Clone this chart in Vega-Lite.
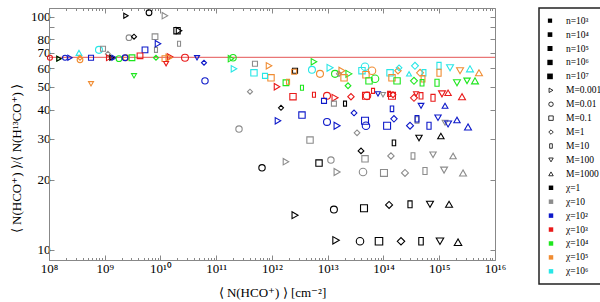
{
"$schema": "https://vega.github.io/schema/vega-lite/v6.json",
"padding": {"left": 10, "top": 1, "right": 0, "bottom": 2},
"background": "white",
"config": {"font": "Liberation Serif, Times New Roman, serif", "view": {"stroke": null},
  "text": {"font": "Liberation Serif, Times New Roman, serif"},
  "axis": {"labelFont": "Liberation Serif, Times New Roman, serif", "titleFont": "Liberation Serif, Times New Roman, serif", "labelColor": "#000", "titleColor": "#000", "titleFontWeight": "normal", "grid": false, "domainColor": "#888", "tickColor": "#888", "labelFontSize": 13, "titleFontSize": 13}},
"datasets": {
"pts": [
{"x":1.04e8,"y":66.7,"n":1000,"M":0.01,"chi":1000},
{"x":1.51e8,"y":66.1,"n":1000,"M":0.001,"chi":10000},
{"x":1.51e8,"y":66.1,"n":1000,"M":0.001,"chi":1},
{"x":1.94e8,"y":66.7,"n":1000,"M":0.01,"chi":100},
{"x":2.38e8,"y":66.7,"n":1000,"M":0.001,"chi":100},
{"x":3.45e8,"y":70.0,"n":10000,"M":1000,"chi":1000000},
{"x":3.6e8,"y":65.4,"n":10000,"M":0.01,"chi":100000},
{"x":3.6e8,"y":66.7,"n":1000,"M":1,"chi":100000},
{"x":5.67e8,"y":66.7,"n":1000,"M":0.1,"chi":100},
{"x":5.67e8,"y":51.6,"n":1000,"M":100,"chi":100000},
{"x":7.88e8,"y":72.1,"n":1000000,"M":0.01,"chi":1000000},
{"x":9.3e8,"y":72.9,"n":1000,"M":0.1,"chi":10},
{"x":1.14e9,"y":69.3,"n":1000,"M":1,"chi":10},
{"x":1.19e9,"y":66.7,"n":10000,"M":0.001,"chi":1000},
{"x":1.35e9,"y":66.7,"n":1000,"M":0.001,"chi":1},
{"x":1.47e9,"y":66.7,"n":1000,"M":0.001,"chi":100},
{"x":1.8e9,"y":66.1,"n":10000,"M":0.01,"chi":10000},
{"x":2.4e9,"y":66.7,"n":10000,"M":0.01,"chi":100000},
{"x":2.31e9,"y":66.7,"n":10000,"M":0.01,"chi":100},
{"x":3.08e9,"y":66.7,"n":10000,"M":0.1,"chi":10000},
{"x":3.35e9,"y":55.8,"n":1000,"M":100,"chi":10000},
{"x":2.4e9,"y":101,"n":1000,"M":0.001,"chi":1},
{"x":2.72e9,"y":81.3,"n":10000,"M":0.01,"chi":10},
{"x":3.35e9,"y":82.1,"n":1000,"M":1,"chi":1},
{"x":6.22e9,"y":104,"n":10000,"M":0.01,"chi":1},
{"x":1.2e10,"y":101,"n":100000,"M":0.001,"chi":10},
{"x":7.97e9,"y":82.1,"n":10000,"M":0.1,"chi":10},
{"x":5.27e9,"y":72.1,"n":10000,"M":0.1,"chi":100},
{"x":4.29e9,"y":68.0,"n":10000,"M":0.1,"chi":1000},
{"x":8.3e9,"y":66.7,"n":1000,"M":1,"chi":10000},
{"x":8.3e9,"y":72.1,"n":1000,"M":10,"chi":10},
{"x":9.02e9,"y":76.6,"n":100000,"M":0.001,"chi":100},
{"x":1.98e10,"y":87.1,"n":100000,"M":0.1,"chi":1},
{"x":2.15e10,"y":87.1,"n":100000,"M":0.001,"chi":1},
{"x":2.15e10,"y":76.6,"n":1000,"M":10,"chi":10},
{"x":1.2e10,"y":66.1,"n":10000,"M":0.1,"chi":100000},
{"x":1.48e10,"y":67.3,"n":100000,"M":0.001,"chi":1000},
{"x":1.42e10,"y":66.7,"n":1000000,"M":0.001,"chi":100000},
{"x":1.26e10,"y":62.9,"n":1000,"M":100,"chi":1000},
{"x":2.75e10,"y":66.7,"n":1000000,"M":0.01,"chi":1000},
{"x":4.52e10,"y":66.7,"n":1000,"M":100,"chi":100},
{"x":6.03e10,"y":63.5,"n":1000,"M":1,"chi":100},
{"x":6.28e10,"y":53.1,"n":100000,"M":0.01,"chi":100},
{"x":1.84e11,"y":66.1,"n":100000,"M":0.001,"chi":10000},
{"x":2.0e11,"y":66.7,"n":100000,"M":0.01,"chi":10000},
{"x":2.08e11,"y":59.8,"n":100000,"M":0.001,"chi":1000000},
{"x":4.75e11,"y":57.5,"n":100000,"M":0.1,"chi":1000000},
{"x":4.95e11,"y":62.9,"n":1000,"M":0.1,"chi":10},
{"x":8.84e11,"y":61.6,"n":100000,"M":0.001,"chi":100000},
{"x":9.6e11,"y":54.7,"n":100000,"M":0.1,"chi":100000},
{"x":7.49e11,"y":55.8,"n":1000,"M":0.1,"chi":1000000},
{"x":4.03e11,"y":47.7,"n":1000,"M":1,"chi":10},
{"x":1.23e12,"y":50.1,"n":100000,"M":0.001,"chi":1000},
{"x":1.78e12,"y":52.1,"n":10000,"M":0.1,"chi":10000},
{"x":1.94e12,"y":52.6,"n":1000,"M":10,"chi":100000},
{"x":2.59e12,"y":58.7,"n":1000,"M":0.1,"chi":1},
{"x":2.5e12,"y":58.1,"n":1000,"M":0.1,"chi":100000},
{"x":3.45e12,"y":49.6,"n":1000,"M":10,"chi":10000},
{"x":2.38e12,"y":45.4,"n":100000,"M":0.1,"chi":1000},
{"x":1.45e12,"y":40.7,"n":1000,"M":1,"chi":1},
{"x":1.28e12,"y":35.8,"n":100000,"M":0.001,"chi":100},
{"x":3.45e12,"y":37.9,"n":100000,"M":0.1,"chi":100},
{"x":2.56e11,"y":33.0,"n":100000,"M":0.01,"chi":10},
{"x":4.81e12,"y":29.6,"n":100000,"M":0.1,"chi":10},
{"x":5.66e12,"y":46.3,"n":1000,"M":10,"chi":1000},
{"x":5.66e12,"y":64.1,"n":100000,"M":0.001,"chi":10000},
{"x":5.21e12,"y":59.2,"n":1000000,"M":0.01,"chi":1000000},
{"x":7.26e12,"y":56.9,"n":1000000,"M":0.01,"chi":100000},
{"x":1.1e13,"y":60.4,"n":1000000,"M":0.001,"chi":1000000},
{"x":1.35e13,"y":56.9,"n":1000000,"M":0.01,"chi":10000},
{"x":1.59e13,"y":56.9,"n":1000,"M":1,"chi":10},
{"x":1.8e13,"y":58.7,"n":1000000,"M":0.001,"chi":100000},
{"x":2.4e13,"y":56.9,"n":1000000,"M":0.001,"chi":10000},
{"x":1.96e13,"y":54.7,"n":100000,"M":0.1,"chi":100000},
{"x":2.31e13,"y":50.6,"n":10000,"M":1,"chi":10000},
{"x":9.7e12,"y":45.8,"n":1000000,"M":0.01,"chi":1000},
{"x":1.35e13,"y":44.9,"n":1000000,"M":0.001,"chi":1000},
{"x":2.61e13,"y":45.4,"n":100000,"M":1,"chi":1000},
{"x":8.57e12,"y":43.6,"n":1000,"M":0.1,"chi":100},
{"x":1.29e13,"y":42.4,"n":1000,"M":0.1,"chi":10},
{"x":2.04e13,"y":42.4,"n":1000,"M":10,"chi":1},
{"x":9.7e12,"y":35.4,"n":1000000,"M":0.01,"chi":100},
{"x":1.47e13,"y":34.1,"n":1000000,"M":0.001,"chi":100},
{"x":2.96e13,"y":38.7,"n":10000,"M":1,"chi":100},
{"x":3.35e13,"y":31.8,"n":10000,"M":1,"chi":10},
{"x":3.95e13,"y":26.6,"n":10000,"M":1,"chi":1},
{"x":4.66e13,"y":61.0,"n":10000000,"M":0.01,"chi":1000000},
{"x":4.11e13,"y":58.7,"n":100000,"M":0.1,"chi":1000000},
{"x":6.22e13,"y":58.7,"n":10000000,"M":0.01,"chi":100000},
{"x":4.85e13,"y":56.4,"n":100000,"M":0.1,"chi":100000},
{"x":7.05e13,"y":54.2,"n":10000000,"M":0.01,"chi":10000},
{"x":5.5e13,"y":53.1,"n":100000,"M":0.1,"chi":10000},
{"x":5.06e13,"y":45.8,"n":10000000,"M":0.01,"chi":1000},
{"x":4.85e13,"y":45.8,"n":1000000,"M":0.1,"chi":1000},
{"x":6.49e13,"y":48.1,"n":1000,"M":10,"chi":1000},
{"x":7.96e13,"y":46.7,"n":1000,"M":100,"chi":100},
{"x":9.8e13,"y":46.3,"n":1000,"M":100,"chi":10},
{"x":4.66e13,"y":35.8,"n":1000000,"M":0.1,"chi":100},
{"x":4.85e13,"y":34.1,"n":10000000,"M":0.01,"chi":100},
{"x":1.31e14,"y":57.5,"n":100000,"M":0.1,"chi":1000000},
{"x":1.42e14,"y":54.7,"n":100000,"M":0.1,"chi":100000},
{"x":1.75e14,"y":53.1,"n":100000,"M":0.1,"chi":10000},
{"x":1.82e14,"y":58.7,"n":100000,"M":1,"chi":100000},
{"x":1.9e14,"y":60.4,"n":10000,"M":1,"chi":1000000},
{"x":2.87e14,"y":56.9,"n":1000,"M":1000,"chi":1000000},
{"x":3.67e14,"y":61.6,"n":1000000,"M":1,"chi":1000000},
{"x":4.52e14,"y":57.5,"n":1000000,"M":1,"chi":100000},
{"x":3.52e14,"y":53.1,"n":1000000,"M":1,"chi":10000},
{"x":5.33e14,"y":57.5,"n":100000,"M":10,"chi":1000000},
{"x":5.12e14,"y":54.2,"n":100000,"M":10,"chi":100000},
{"x":4.91e14,"y":52.1,"n":100000,"M":10,"chi":10000},
{"x":9.9e14,"y":61.6,"n":1000000,"M":10,"chi":1000000},
{"x":9.9e14,"y":57.5,"n":1000000,"M":10,"chi":100000},
{"x":9.12e14,"y":52.1,"n":1000000,"M":10,"chi":10000},
{"x":1.56e15,"y":60.4,"n":1000000,"M":100,"chi":1000000},
{"x":2.36e15,"y":58.7,"n":1000000,"M":100,"chi":100000},
{"x":2.08e15,"y":52.1,"n":1000000,"M":100,"chi":10000},
{"x":3.15e15,"y":53.1,"n":100000,"M":100,"chi":10000},
{"x":3.56e15,"y":59.8,"n":1000000,"M":1000,"chi":1000000},
{"x":5.16e15,"y":57.5,"n":1000000,"M":1000,"chi":100000},
{"x":4.38e15,"y":53.1,"n":1000000,"M":1000,"chi":10000},
{"x":1.42e14,"y":45.8,"n":1000000,"M":0.1,"chi":1000},
{"x":1.48e14,"y":46.3,"n":10000,"M":1,"chi":1000},
{"x":1.26e14,"y":46.7,"n":1000,"M":10,"chi":1000},
{"x":3.52e14,"y":44.9,"n":1000000,"M":1,"chi":1000},
{"x":4.71e14,"y":45.8,"n":100000,"M":10,"chi":1000},
{"x":7.73e14,"y":44.9,"n":1000000,"M":10,"chi":1000},
{"x":1.12e15,"y":46.7,"n":1000000,"M":100,"chi":1000},
{"x":1.44e15,"y":47.2,"n":100000,"M":1000,"chi":1000},
{"x":2.56e15,"y":45.4,"n":1000000,"M":1000,"chi":1000},
{"x":3.83e14,"y":46.7,"n":1000,"M":100,"chi":1000},
{"x":1.27e15,"y":41.5,"n":10000,"M":1000,"chi":100},
{"x":4.71e14,"y":41.5,"n":10000,"M":100,"chi":100},
{"x":1.16e14,"y":34.1,"n":1000000,"M":0.1,"chi":100},
{"x":1.54e14,"y":36.5,"n":100000,"M":1,"chi":100},
{"x":2.99e14,"y":34.1,"n":1000000,"M":1,"chi":100},
{"x":3.99e14,"y":36.1,"n":100000,"M":10,"chi":10},
{"x":3.99e14,"y":36.5,"n":100000,"M":10,"chi":100},
{"x":6.55e14,"y":34.1,"n":1000000,"M":10,"chi":100},
{"x":1.27e15,"y":35.1,"n":10000,"M":100,"chi":10},
{"x":9.5e14,"y":36.9,"n":100000,"M":100,"chi":100},
{"x":1.44e15,"y":34.7,"n":1000000,"M":100,"chi":100},
{"x":2.08e15,"y":36.1,"n":100000,"M":1000,"chi":100},
{"x":3.28e15,"y":33.7,"n":1000000,"M":1000,"chi":100},
{"x":1.42e14,"y":40.3,"n":10000,"M":10,"chi":100},
{"x":1.36e14,"y":25.3,"n":100000,"M":1,"chi":10},
{"x":3.38e14,"y":25.3,"n":100000,"M":10,"chi":10},
{"x":7.73e14,"y":25.6,"n":100000,"M":100,"chi":10},
{"x":1.77e15,"y":25.3,"n":100000,"M":1000,"chi":10},
{"x":1.02e14,"y":21.4,"n":1000000,"M":0.1,"chi":10},
{"x":2.43e14,"y":21.4,"n":1000000,"M":1,"chi":10},
{"x":5.55e14,"y":21.8,"n":1000000,"M":10,"chi":10},
{"x":1.22e15,"y":22.0,"n":1000000,"M":100,"chi":10},
{"x":2.67e15,"y":21.4,"n":1000000,"M":1000,"chi":10},
{"x":4.29e13,"y":21.6,"n":10000000,"M":0.01,"chi":10},
{"x":4.66e13,"y":24.6,"n":100000,"M":0.1,"chi":10},
{"x":1.14e13,"y":24.3,"n":100000,"M":0.01,"chi":10},
{"x":1.78e12,"y":23.9,"n":100000,"M":0.001,"chi":10},
{"x":1.47e13,"y":21.6,"n":1000000,"M":0.001,"chi":10},
{"x":6.62e11,"y":22.5,"n":100000,"M":0.01,"chi":1},
{"x":6.97e12,"y":23.6,"n":100000,"M":0.1,"chi":1},
{"x":1.54e14,"y":28.8,"n":10000,"M":10,"chi":1},
{"x":4.33e14,"y":30.2,"n":100000,"M":100,"chi":1},
{"x":1.07e15,"y":30.8,"n":100000,"M":1000,"chi":1},
{"x":2.59e12,"y":14.1,"n":1000000,"M":0.001,"chi":1},
{"x":1.29e13,"y":14.9,"n":1000000,"M":0.01,"chi":1},
{"x":4.47e13,"y":15.1,"n":1000000,"M":0.1,"chi":1},
{"x":1.26e14,"y":15.6,"n":1000000,"M":1,"chi":1},
{"x":2.99e14,"y":15.7,"n":1000000,"M":10,"chi":1},
{"x":6.82e14,"y":15.7,"n":1000000,"M":100,"chi":1},
{"x":1.5e15,"y":15.7,"n":1000000,"M":1000,"chi":1},
{"x":1.41e13,"y":11.0,"n":10000000,"M":0.001,"chi":1},
{"x":3.79e13,"y":10.9,"n":10000000,"M":0.01,"chi":1},
{"x":8.3e13,"y":10.9,"n":10000000,"M":0.1,"chi":1},
{"x":2.06e14,"y":10.9,"n":10000000,"M":1,"chi":1},
{"x":4.71e14,"y":10.9,"n":10000000,"M":10,"chi":1},
{"x":1.03e15,"y":10.9,"n":10000000,"M":100,"chi":1},
{"x":2.17e15,"y":10.8,"n":10000000,"M":1000,"chi":1}
],
"leg": [
{"kind":"n","n":1000,"label":"n=10³"},
{"kind":"n","n":10000,"label":"n=10⁴"},
{"kind":"n","n":100000,"label":"n=10⁵"},
{"kind":"n","n":1000000,"label":"n=10⁶"},
{"kind":"n","n":10000000,"label":"n=10⁷"},
{"kind":"M","M":0.001,"label":"M=0.001"},
{"kind":"M","M":0.01,"label":"M=0.01"},
{"kind":"M","M":0.1,"label":"M=0.1"},
{"kind":"M","M":1,"label":"M=1"},
{"kind":"M","M":10,"label":"M=10"},
{"kind":"M","M":100,"label":"M=100"},
{"kind":"M","M":1000,"label":"M=1000"},
{"kind":"chi","chi":1,"label":"χ=1"},
{"kind":"chi","chi":10,"label":"χ=10"},
{"kind":"chi","chi":100,"label":"χ=10²"},
{"kind":"chi","chi":1000,"label":"χ=10³"},
{"kind":"chi","chi":10000,"label":"χ=10⁴"},
{"kind":"chi","chi":100000,"label":"χ=10⁵"},
{"kind":"chi","chi":1000000,"label":"χ=10⁶"}
]
},
"spacing": 31,
"resolve": {"scale": {"size": "independent", "color": "independent", "shape": "independent"}},
"hconcat": [
{
 "width": 446, "height": 252,
 "view": {"stroke": "#888", "strokeWidth": 1},
 "resolve": {"axis": {"x": "independent", "y": "independent"}},
 "layer": [
  {
   "data": {"values": [{"ratio": 67, "lo": 1e8, "hi": 1e16}]},
   "mark": {"type": "rule", "color": "#e45454", "strokeWidth": 1},
   "encoding": {
    "y": {"field": "ratio", "type": "quantitative", "scale": {"type": "log", "domain": [9.06, 109], "nice": false},
      "axis": {"orient": "right", "values": [10,20,30,40,50,60,70,80,90,100], "labels": false, "title": null, "tickSize": -5, "domain": false}},
    "x": {"field": "lo", "type": "quantitative", "scale": {"type": "log", "domain": [1e8, 1e16], "nice": false},
      "axis": {"orient": "top", "values": [1e8,2e8,3e8,4e8,5e8,6e8,7e8,8e8,9e8,1e9,2e9,3e9,4e9,5e9,6e9,7e9,8e9,9e9,1e10,2e10,3e10,4e10,5e10,6e10,7e10,8e10,9e10,1e11,2e11,3e11,4e11,5e11,6e11,7e11,8e11,9e11,1e12,2e12,3e12,4e12,5e12,6e12,7e12,8e12,9e12,1e13,2e13,3e13,4e13,5e13,6e13,7e13,8e13,9e13,1e14,2e14,3e14,4e14,5e14,6e14,7e14,8e14,9e14,1e15,2e15,3e15,4e15,5e15,6e15,7e15,8e15,9e15,1e16],
        "labels": false, "title": " ", "titleFontSize": 6, "titlePadding": 0, "domain": false,
        "tickSize": {"condition": {"test": "abs(log(datum.value)/LN10 - round(log(datum.value)/LN10)) < 0.01", "value": -5}, "value": -2.5}}},
    "x2": {"field": "hi"}
   }
  },
  {
   "data": {"name": "pts"},
   "mark": {"type": "point", "filled": false, "strokeWidth": 1.1, "opacity": 1},
   "encoding": {
    "x": {"field": "x", "type": "quantitative", "scale": {"type": "log", "domain": [1e8, 1e16], "nice": false},
      "axis": {"orient": "bottom", "values": [1e8,2e8,3e8,4e8,5e8,6e8,7e8,8e8,9e8,1e9,2e9,3e9,4e9,5e9,6e9,7e9,8e9,9e9,1e10,2e10,3e10,4e10,5e10,6e10,7e10,8e10,9e10,1e11,2e11,3e11,4e11,5e11,6e11,7e11,8e11,9e11,1e12,2e12,3e12,4e12,5e12,6e12,7e12,8e12,9e12,1e13,2e13,3e13,4e13,5e13,6e13,7e13,8e13,9e13,1e14,2e14,3e14,4e14,5e14,6e14,7e14,8e14,9e14,1e15,2e15,3e15,4e15,5e15,6e15,7e15,8e15,9e15,1e16],
        "labelOverlap": false, "labelFlush": false, "labelPadding": 7,
        "labelExpr": "abs(log(datum.value)/LN10 - round(log(datum.value)/LN10)) > 0.01 ? '' : (round(log(datum.value)/LN10) < 10 ? '10' + substring('⁰¹²³⁴⁵⁶⁷⁸⁹', round(log(datum.value)/LN10), round(log(datum.value)/LN10) + 1) : '10¹' + substring('⁰¹²³⁴⁵⁶⁷⁸⁹', round(log(datum.value)/LN10) - 10, round(log(datum.value)/LN10) - 9))",
        "tickSize": {"condition": {"test": "abs(log(datum.value)/LN10 - round(log(datum.value)/LN10)) < 0.01", "value": -5}, "value": -2.5},
        "title": "⟨ N(HCO⁺) ⟩ [cm⁻²]", "titlePadding": 9}},
    "y": {"field": "y", "type": "quantitative", "scale": {"type": "log", "domain": [9.06, 109], "nice": false},
      "axis": {"orient": "left", "values": [10,20,30,40,50,60,70,80,90,100], "format": "d", "tickSize": -5, "labelPadding": 4,
        "title": "⟨ N(HCO⁺) ⟩/⟨ N(H¹³CO⁺) ⟩", "titlePadding": 7, "titleY": 150}},
    "shape": {"field": "M", "type": "ordinal", "legend": null,
      "scale": {"domain": [0.001,0.01,0.1,1,10,100,1000], "range": ["triangle-right","circle","square","diamond","M-0.6,-1H0.6V1H-0.6Z","triangle-down","triangle-up"]}},
    "color": {"field": "chi", "type": "ordinal", "legend": null,
      "scale": {"domain": [1,10,100,1000,10000,100000,1000000], "range": ["#000000","#8c8c8c","#0d19c9","#e91a1a","#1ee61e","#f08c32","#28e6e6"]}},
    "size": {"field": "n", "type": "ordinal", "legend": null,
      "scale": {"domain": [1000,10000,100000,1000000,10000000], "range": [25,56,100,169,210]}}
   }
  }
 ]
},
{
 "width": 68, "height": 276,
 "view": {"stroke": "#222", "strokeWidth": 1.5},
 "data": {"name": "leg"},
 "encoding": {
  "y": {"field": "label", "type": "nominal", "axis": null,
    "scale": {"type": "point", "padding": 0.91, "domain": ["n=10³","n=10⁴","n=10⁵","n=10⁶","n=10⁷","M=0.001","M=0.01","M=0.1","M=1","M=10","M=100","M=1000","χ=1","χ=10","χ=10²","χ=10³","χ=10⁴","χ=10⁵","χ=10⁶"]}}
 },
 "layer": [
  {"transform": [{"filter": "datum.kind == 'n'"}],
   "mark": {"type": "point", "shape": "square", "filled": true, "color": "#000", "opacity": 1, "xOffset": -23},
   "encoding": {"size": {"field": "n", "type": "ordinal", "legend": null, "scale": {"domain": [1000,10000,100000,1000000,10000000], "range": [18,32,100,144,178]}}}},
  {"transform": [{"filter": "datum.kind == 'M'"}],
   "mark": {"type": "point", "filled": false, "color": "#000", "size": 20, "strokeWidth": 0.8, "opacity": 1, "xOffset": -22},
   "encoding": {"shape": {"field": "M", "type": "ordinal", "legend": null,
      "scale": {"domain": [0.001,0.01,0.1,1,10,100,1000], "range": ["triangle-right","circle","square","diamond","M-0.6,-1H0.6V1H-0.6Z","triangle-down","triangle-up"]}}}},
  {"transform": [{"filter": "datum.kind == 'chi'"}],
   "mark": {"type": "point", "shape": "square", "filled": true, "size": 20, "opacity": 1, "xOffset": -22},
   "encoding": {"color": {"field": "chi", "type": "ordinal", "legend": null,
      "scale": {"domain": [1,10,100,1000,10000,100000,1000000], "range": ["#000000","#8c8c8c","#0d19c9","#e91a1a","#1ee61e","#f08c32","#28e6e6"]}}}},
  {"mark": {"type": "text", "align": "left", "baseline": "middle", "font": "Liberation Serif, Times New Roman, serif", "fontSize": 9.5, "color": "#000", "dx": -7},
   "encoding": {"text": {"field": "label", "type": "nominal"}}}
 ]
}
]
}
